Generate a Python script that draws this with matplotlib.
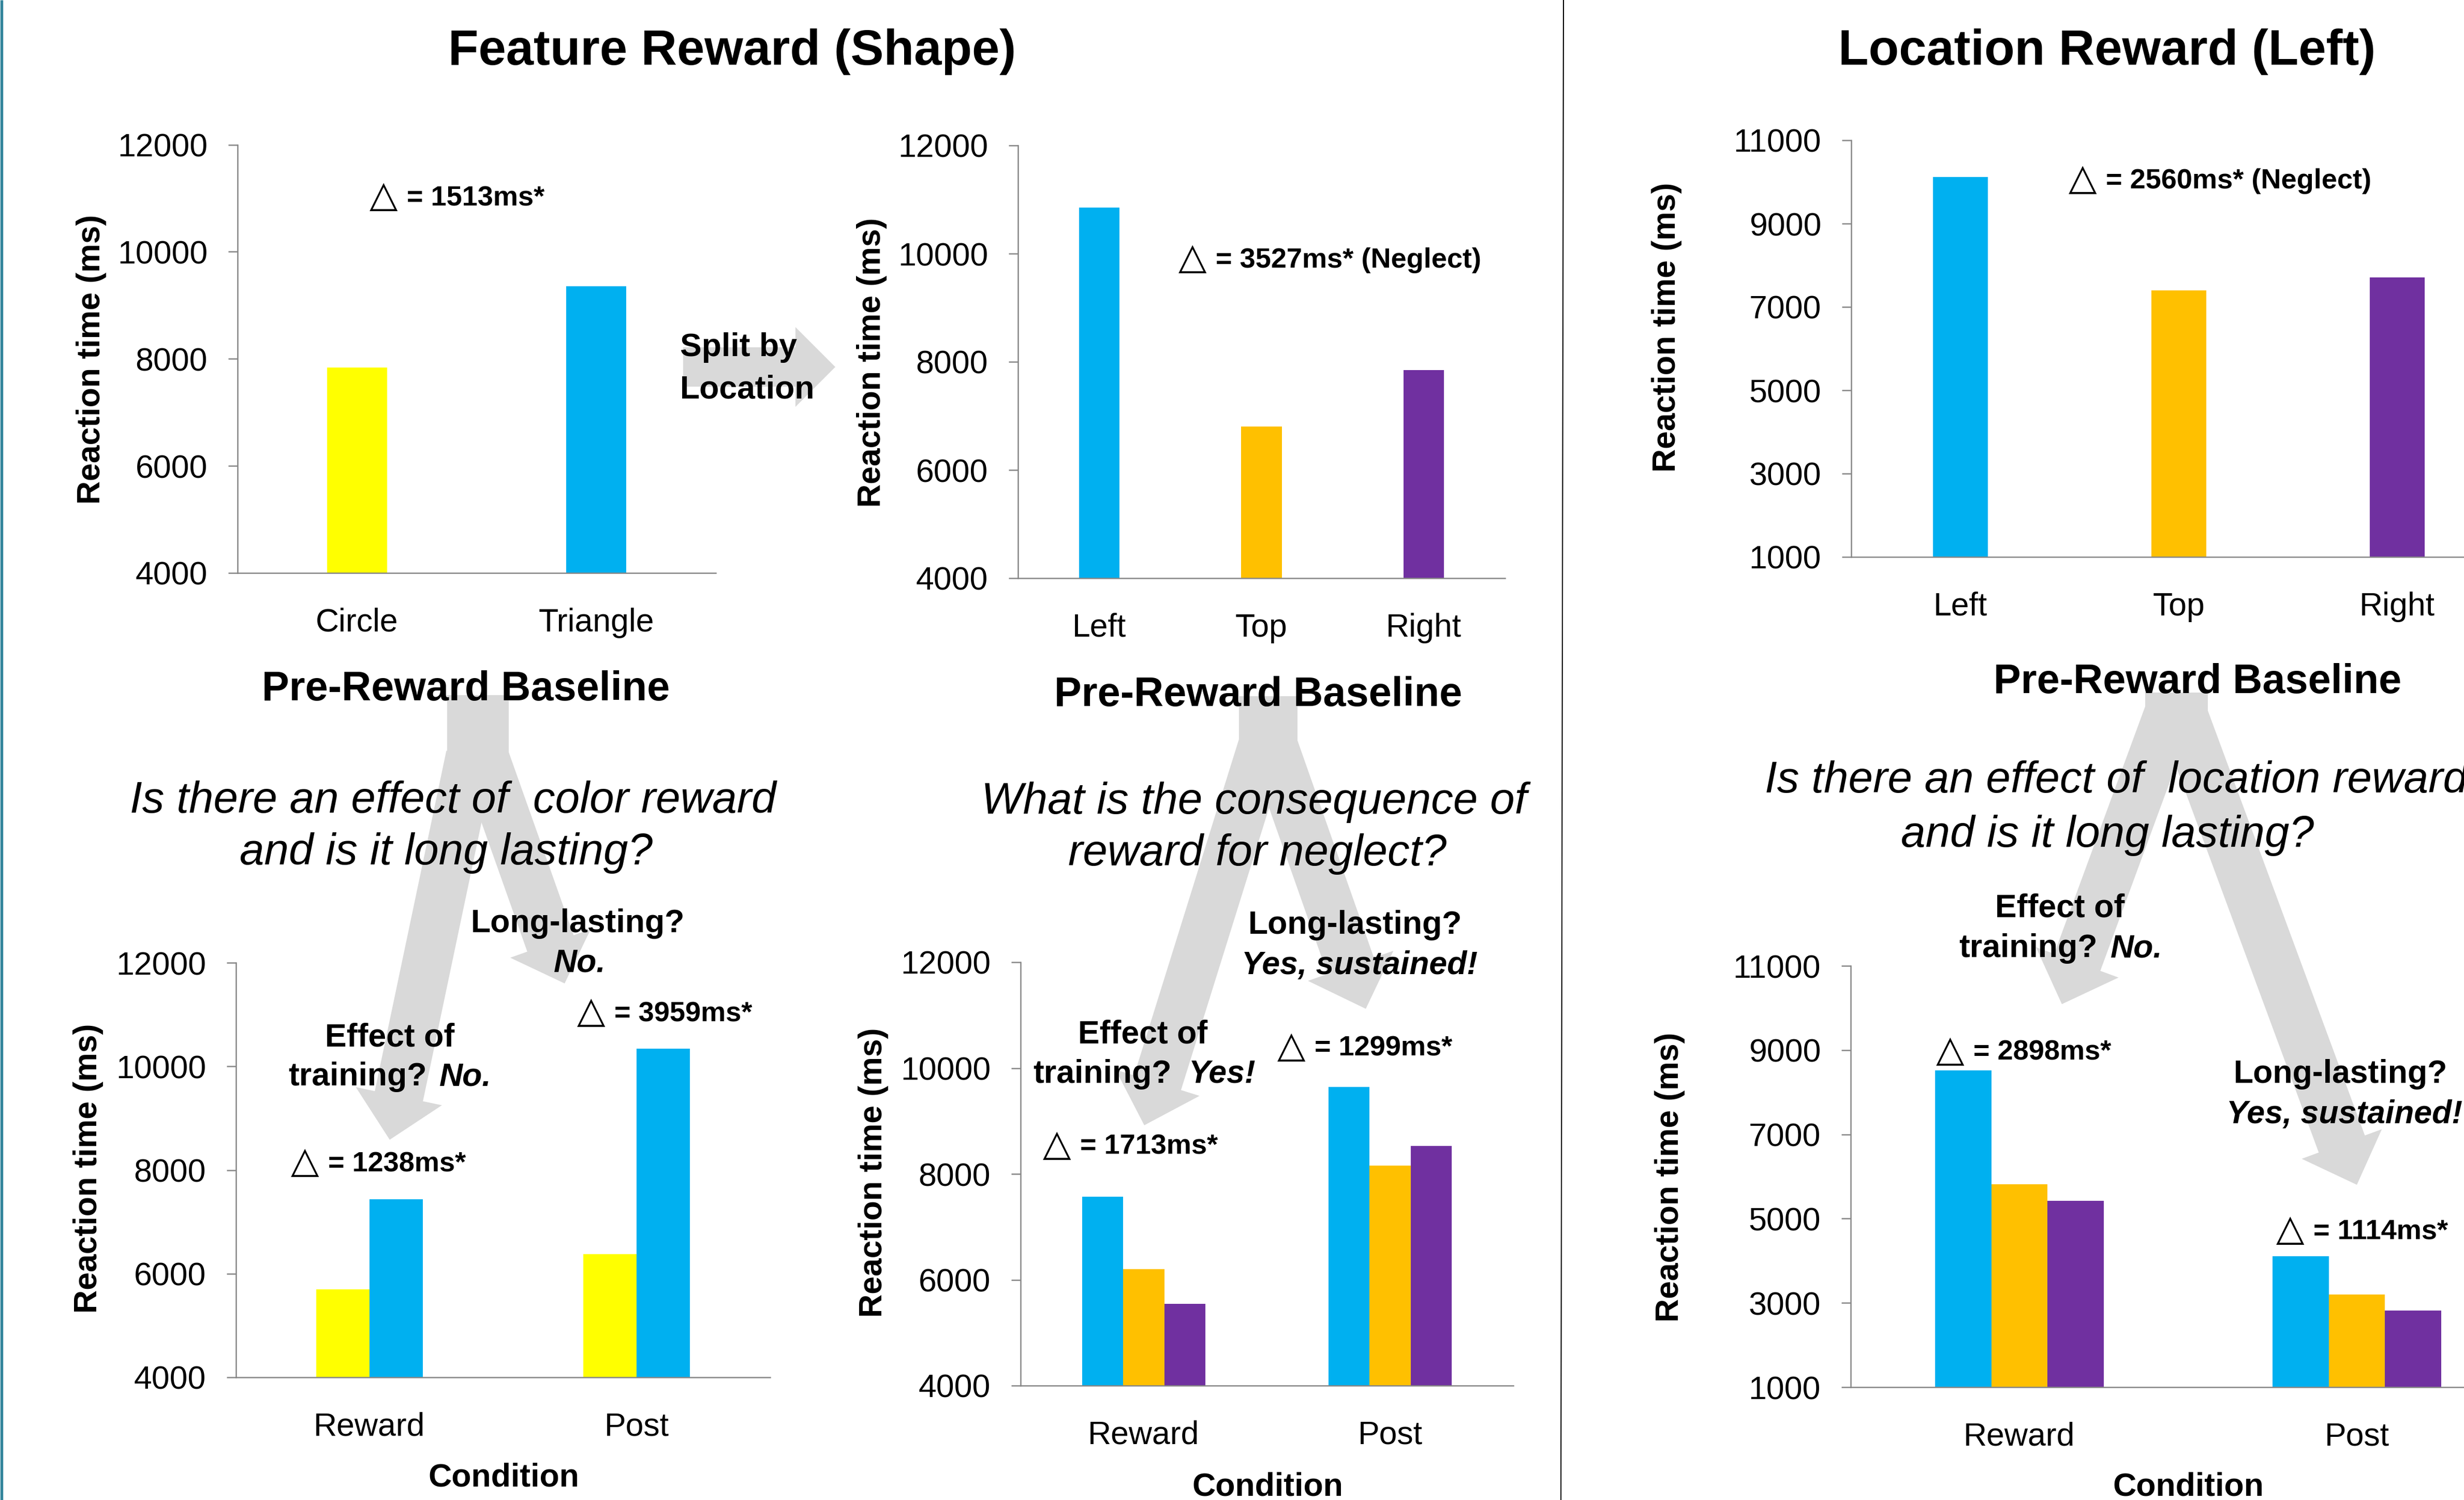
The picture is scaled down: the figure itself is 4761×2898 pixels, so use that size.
import numpy as np
import matplotlib
matplotlib.use('Agg')
import matplotlib.pyplot as plt
from matplotlib.patches import FancyArrow, Rectangle

# reaction times (ms)
shape_cats = ['Circle', 'Triangle']
shape_base = [7840, 9353]

loc_cats = ['Left', 'Top', 'Right']
shape_loc_base = [10850, 6800, 7846]
loc_base = [10115, 7399, 7714]

conds = ['Reward', 'Post']
shape_circle = [5697, 6380]
shape_triangle = [7433, 10339]
shape_left = [7571, 9639]
shape_top = [6205, 8156]
shape_right = [5541, 8527]
loc_left = [8513, 4111]
loc_top = [5812, 3196]
loc_right = [5424, 2819]

deltas = ['1513', '3527', '2560', '1238', '3959', '1713', '1299', '2898', '1114']

YELLOW = '#FFFF00'
BLUE = '#00B0F0'
ORANGE = '#FFC000'
PURPLE = '#7030A0'
AXGRAY = '#868686'
ARROW = '#D9D9D9'

W, H = 4761, 2898
DPI = 300
plt.rcParams['font.family'] = ['Liberation Sans', 'DejaVu Sans']

fig = plt.figure(figsize=(W / DPI, H / DPI), dpi=DPI)


def fx(x):
    return x / W


def fy(y):
    return 1 - y / H


def put(x, y, s, size, ha='center', va='baseline', **kw):
    fig.text(fx(x), fy(y), s, fontsize=size, ha=ha, va=va, **kw)


def delta(x, y, val, extra=''):
    put(x, y + 2, '\u25B3', 17, ha='left', family='DejaVu Sans')
    put(x + 72, y, '= ' + val + 'ms*' + extra, 13, ha='left', weight='bold')


# background layer in pixel coordinates for arrows and rules
bg = fig.add_axes([0, 0, 1, 1], zorder=0)
bg.set_xlim(0, W)
bg.set_ylim(H, 0)
bg.axis('off')
bg.plot([3.5, 3.5], [0, H], color='#31849B', lw=1.3, solid_capstyle='butt')
bg.plot([3021, 3016], [0, H], color='black', lw=0.5)


def arrow(x0, y0, x1, y1, w=95, hw=170, hl=86):
    bg.add_patch(FancyArrow(x0, y0, x1 - x0, y1 - y0, width=w, head_width=hw,
                            head_length=hl, length_includes_head=True,
                            color=ARROW, lw=0))


arrow(1320, 709, 1614, 709, w=76, hw=154, hl=77)

bg.add_patch(Rectangle((864, 1343), 119, 142, color=ARROW, lw=0))
arrow(909, 1460, 753, 2202)
arrow(935, 1460, 1091, 1900, hw=165, hl=82)

bg.add_patch(Rectangle((2394, 1345), 113, 121, color=ARROW, lw=0))
arrow(2440, 1440, 2211, 2174)
arrow(2460, 1440, 2639, 1949, hw=175, hl=88)

bg.add_patch(Rectangle((4145, 1338), 121, 55, color=ARROW, lw=0))
arrow(4190, 1380, 3984, 1940)
arrow(4218, 1380, 4554, 2289, hw=165, hl=84)


def make_axes(x0, x1, ytop, ybot, ymin, ymax, step, cats, lab_pad=16):
    ax = fig.add_axes([fx(x0), fy(ybot), (x1 - x0) / W, (ybot - ytop) / H], zorder=1)
    ax.patch.set_alpha(0)
    ax.set_ylim(ymin, ymax)
    ax.set_yticks(np.arange(ymin, ymax + 1, step))
    ax.set_xlim(-0.5, len(cats) - 0.5)
    ax.set_xticks(range(len(cats)))
    ax.set_xticklabels(cats)
    for s in ['top', 'right']:
        ax.spines[s].set_visible(False)
    for s in ['left', 'bottom']:
        ax.spines[s].set_color(AXGRAY)
        ax.spines[s].set_linewidth(0.6)
    ax.tick_params(axis='y', length=4.3, width=0.6, color=AXGRAY, pad=9.6, labelsize=15)
    ax.tick_params(axis='x', length=0, pad=lab_pad, labelsize=15)
    return ax


def grouped(ax, series, colors, width):
    x = np.arange(len(conds))
    n = len(series)
    for i, (vals, c) in enumerate(zip(series, colors)):
        ax.bar(x + (i - (n - 1) / 2) * width, vals, width, color=c, lw=0)


# top row: pre-reward baseline
ax1 = make_axes(459, 1383, 279.5, 1107, 4000, 12000, 2000, shape_cats)
ax1.bar(range(2), shape_base, 0.25, color=[YELLOW, BLUE], lw=0)

ax2 = make_axes(1967, 2908, 281, 1117, 4000, 12000, 2000, loc_cats)
ax2.bar(range(3), shape_loc_base, 0.25, color=[BLUE, ORANGE, PURPLE], lw=0)

ax3 = make_axes(3577, 4843, 271, 1076, 1000, 11000, 2000, loc_cats)
ax3.bar(range(3), loc_base, 0.25, color=[BLUE, ORANGE, PURPLE], lw=0)

# bottom row: reward and post phases
ax4 = make_axes(456, 1488, 1860, 2661, 4000, 12000, 2000, conds)
grouped(ax4, [shape_circle, shape_triangle], [YELLOW, BLUE], 0.2)

ax5 = make_axes(1972, 2924, 1859, 2677, 4000, 12000, 2000, conds)
grouped(ax5, [shape_left, shape_top, shape_right], [BLUE, ORANGE, PURPLE], 1 / 6)

ax6 = make_axes(3576, 4880, 1866, 2680, 1000, 11000, 2000, conds)
grouped(ax6, [loc_left, loc_top, loc_right], [BLUE, ORANGE, PURPLE], 1 / 6)

# axis labels
for x, y in [(177, 694), (1684, 700), (3220, 632), (171, 2257), (1688, 2265), (3226, 2274)]:
    put(x, y, 'Reaction time (ms)', 15, va='center', rotation=90, weight='bold')
for x, y in [(900, 1353), (2431, 1364), (4246, 1339)]:
    put(x, y, 'Pre-Reward Baseline', 19, weight='bold')
for x, y in [(973, 2871), (2449, 2890), (4228, 2890)]:
    put(x, y, 'Condition', 15, weight='bold')

# titles
put(1415, 125, 'Feature Reward (Shape)', 23, weight='bold')
put(4071, 125, 'Location Reward (Left)', 23, weight='bold')

# split arrow label
put(1314, 688, 'Split by', 15, ha='left', weight='bold')
put(1314, 770, 'Location', 15, ha='left', weight='bold')

# questions
put(875, 1570, 'Is there an effect of  color reward', 20.5, style='italic')
put(862, 1670, 'and is it long lasting?', 20.5, style='italic')
put(2423, 1572, 'What is the consequence of', 20.5, style='italic')
put(2430, 1672, 'reward for neglect?', 20.5, style='italic')
put(3410, 1531, 'Is there an effect of  location reward', 20.5, ha='left', style='italic')
put(4072, 1636, 'and is it long lasting?', 20.5, style='italic')

# answers
put(1117, 1801, 'Long-lasting?', 15, weight='bold')
put(1120, 1877, 'No.', 15, weight='bold', style='italic')
put(753, 2021, 'Effect of', 15, weight='bold')
put(557, 2097, 'training?', 15, ha='left', weight='bold')
put(849, 2097, 'No.', 15, ha='left', weight='bold', style='italic')

put(2619, 1804, 'Long-lasting?', 15, weight='bold')
put(2627, 1882, 'Yes, sustained!', 15, weight='bold', style='italic')
put(2208, 2016, 'Effect of', 15, weight='bold')
put(1996, 2092, 'training?', 15, ha='left', weight='bold')
put(2297, 2092, 'Yes!', 15, ha='left', weight='bold', style='italic')

put(3980, 1772, 'Effect of', 15, weight='bold')
put(3785, 1849, 'training?', 15, ha='left', weight='bold')
put(4078, 1849, 'No.', 15, ha='left', weight='bold', style='italic')
put(4523, 2092, 'Long-lasting?', 15, weight='bold')
put(4302, 2170, 'Yes, sustained!', 15, ha='left', weight='bold', style='italic')

# differences
delta(714, 397, deltas[0])
delta(2277, 517, deltas[1], ' (Neglect)')
delta(3997, 364, deltas[2], ' (Neglect)')
delta(562, 2263, deltas[3])
delta(1115, 1973, deltas[4])
delta(2015, 2230, deltas[5])
delta(2468, 2040, deltas[6])
delta(3741, 2048, deltas[7])
delta(4398, 2394, deltas[8])

fig.savefig('out.png', dpi=DPI, facecolor='white')
